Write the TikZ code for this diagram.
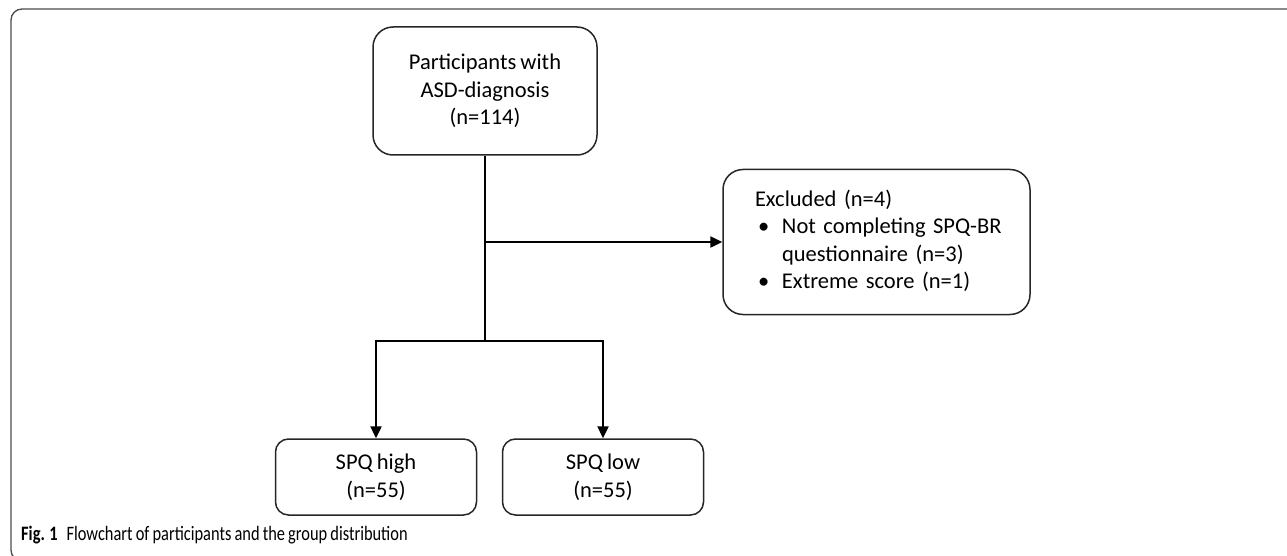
\documentclass[tikz,border=0pt]{standalone}
\usepackage{fontspec}
\setmainfont{Carlito}[WordSpace=0.8]
\newfontfamily\capfont[FakeStretch=0.8,WordSpace=0.85]{Carlito}
\usetikzlibrary{arrows.meta}

\begin{document}
\begin{tikzpicture}[x=1pt, y=-1pt,
  box/.style = {draw=black!85, line width=1.5pt, rounded corners=20pt, inner sep=0pt, font=\fontsize{22.5}{27.5}\selectfont},
  smallbox/.style = {box, rounded corners=13pt, minimum width=201pt, minimum height=76pt, align=center},
  link/.style = {line width=2.4pt, -{Triangle[length=12pt,width=11pt]}}]
\useasboundingbox (0,0) rectangle (1287,556);
\clip (0,0) rectangle (1287,556);

% frame
\draw[black!70, line width=1.3pt, rounded corners=11pt] (1300,9) -- (11,9) -- (11,561) -- (40,561);

\node[box, minimum width=224pt, minimum height=128pt, align=center] (start) at (485,91) {Participants with\\ASD-diagnosis\\(n=114)};
\node[box, minimum width=307pt, minimum height=145pt, text width=243pt, align=left] (excl) at (876.5,242)
  {\begin{tabular}{@{}l@{}l@{}}
   \multicolumn{2}{@{}l@{}}{Excluded (n=4)}\\
   \makebox[27pt][l]{\hspace{3pt}•} & Not completing SPQ-BR\\
    & questionnaire (n=3)\\
   \makebox[27pt][l]{\hspace{3pt}•} & Extreme score (n=1)
   \end{tabular}};
\node[smallbox] (high) at (376,477) {SPQ high\\(n=55)};
\node[smallbox] (low) at (603,477) {SPQ low\\(n=55)};
\coordinate (split) at (485,341);

\draw[link] (start.south |- excl.west) -- (excl.west);
\draw[link] (start.south) -- (split) -| (high.north);
\draw[link] (split) -| (low.north);

\node[anchor=base west, inner sep=0pt, font=\capfont\fontsize{20.5}{22}\selectfont] (caption) at (21,540)
  {\textbf{Fig. 1}\hspace{9pt}Flowchart of participants and the group distribution};

\end{tikzpicture}
\end{document}
